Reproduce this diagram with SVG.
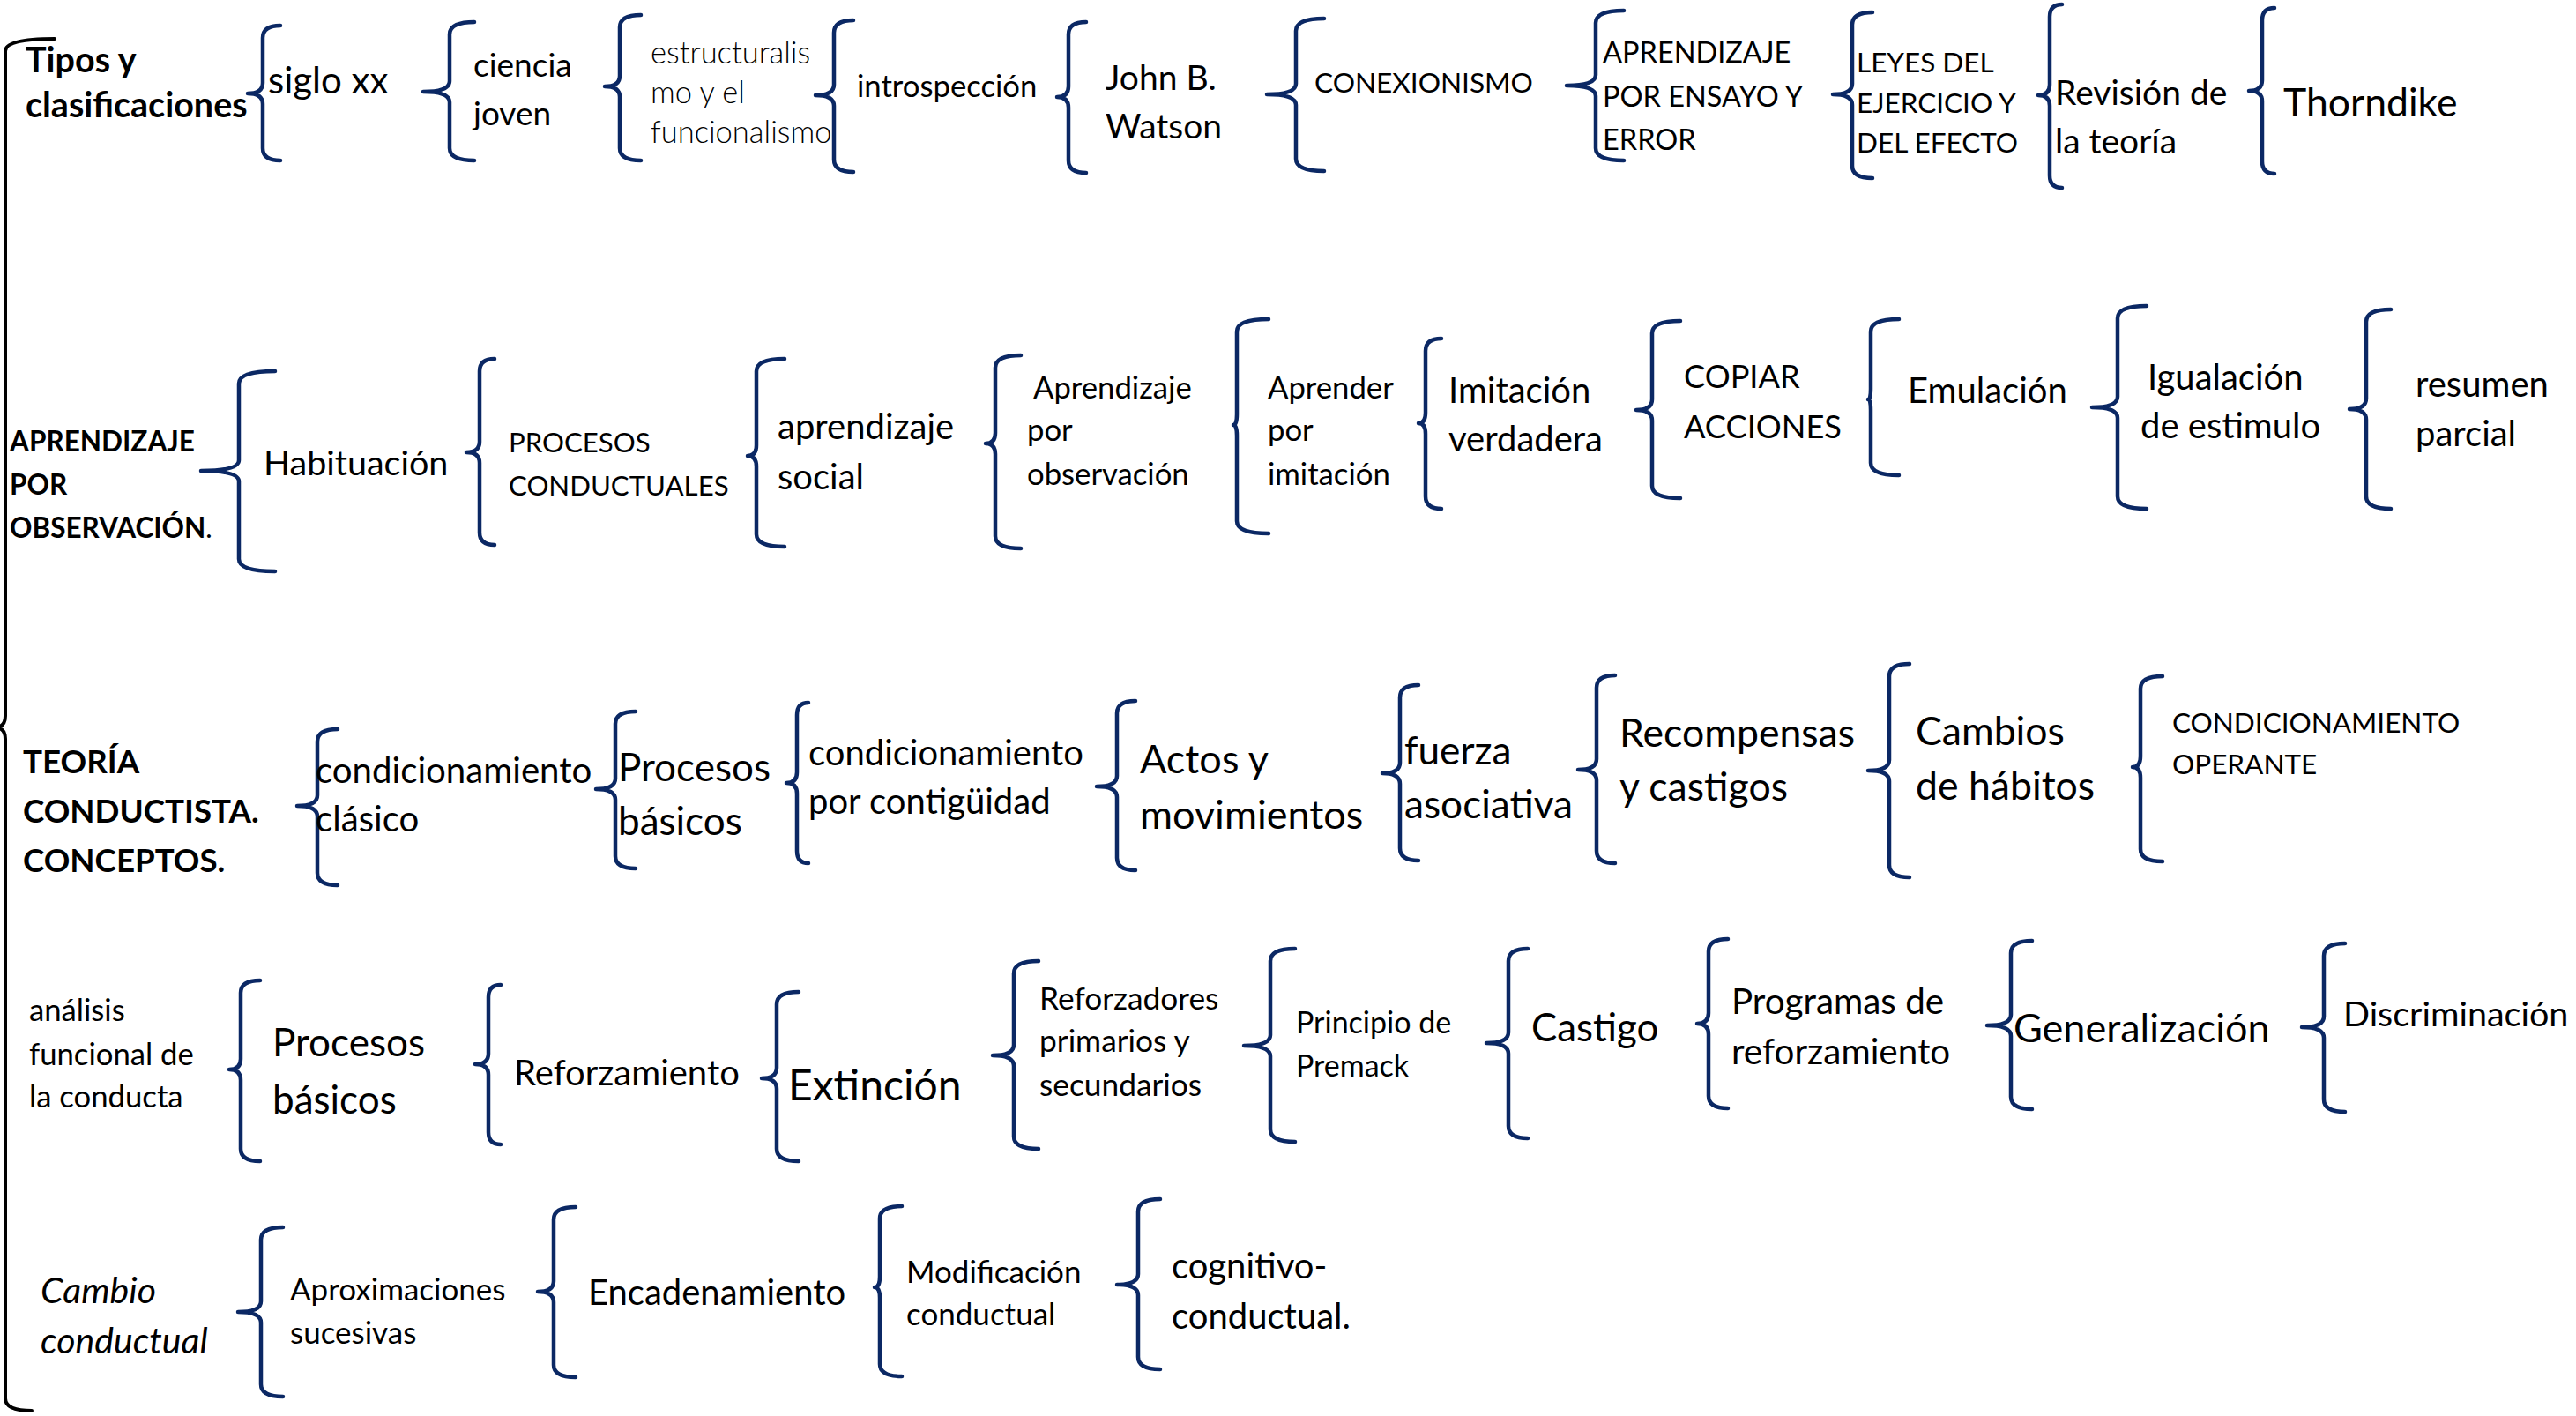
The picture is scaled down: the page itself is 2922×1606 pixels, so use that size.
<svg xmlns="http://www.w3.org/2000/svg" width="2922" height="1606" viewBox="0 0 2922 1606">
<style>
.t{font-family:Lato,"Liberation Sans",sans-serif;fill:#000}
.bd{font-weight:bold}
.it{font-style:italic}
.lt{font-weight:300}
.br{fill:none;stroke:#0b2864;stroke-width:4.5;stroke-linecap:round;stroke-linejoin:round}
.bk{fill:none;stroke:#000;stroke-width:4;stroke-linecap:round;stroke-linejoin:round}
</style>
<rect width="2922" height="1606" fill="#fff"/>
<g id="connectors">
<path class="bk" d="M62,44 Q6,44 6,58 L6,812 Q6,825 -6,825 Q6,825 6,838 L6,1586 Q6,1600 36,1600"/>
<path class="br" d="M318,29 Q298,29 298,43 L298,94 Q298,106 281,106 Q298,106 298,118 L298,168 Q298,182 318,182"/>
<path class="br" d="M538,25 Q510,25 510,39 L510,92 Q510,104 480,104 Q510,104 510,116 L510,168 Q510,182 538,182"/>
<path class="br" d="M727,17 Q703,17 703,31 L703,86 Q703,98 686,98 Q703,98 703,110 L703,168 Q703,182 727,182"/>
<path class="br" d="M968,23 Q946,23 946,37 L946,96 Q946,108 925,108 Q946,108 946,120 L946,181 Q946,195 968,195"/>
<path class="br" d="M1232,25 Q1212,25 1212,39 L1212,98 Q1212,110 1199,110 Q1212,110 1212,122 L1212,182 Q1212,196 1232,196"/>
<path class="br" d="M1502,21 Q1470,21 1470,35 L1470,95 Q1470,107 1437,107 Q1470,107 1470,119 L1470,180 Q1470,194 1502,194"/>
<path class="br" d="M1842,12 Q1810,12 1810,26 L1810,85 Q1810,97 1777,97 Q1810,97 1810,109 L1810,168 Q1810,182 1842,182"/>
<path class="br" d="M2124,14 Q2101,14 2101,28 L2101,95 Q2101,107 2079,107 Q2101,107 2101,119 L2101,188 Q2101,202 2124,202"/>
<path class="br" d="M2339,5 Q2325,5 2325,19 L2325,96 Q2325,108 2312,108 Q2325,108 2325,120 L2325,199 Q2325,213 2339,213"/>
<path class="br" d="M2580,9 Q2566,9 2566,23 L2566,91 Q2566,103 2551,103 Q2566,103 2566,115 L2566,183 Q2566,197 2580,197"/>
<path class="br" d="M312,421 Q271,421 271,435 L271,522 Q271,534 228,534 Q271,534 271,546 L271,634 Q271,648 312,648"/>
<path class="br" d="M561,407 Q544,407 544,421 L544,501 Q544,513 529,513 Q544,513 544,525 L544,604 Q544,618 561,618"/>
<path class="br" d="M890,407 Q858,407 858,421 L858,505 Q858,517 848,517 Q858,517 858,529 L858,606 Q858,620 890,620"/>
<path class="br" d="M1158,403 Q1129,403 1129,417 L1129,491 Q1129,503 1118,503 Q1129,503 1129,515 L1129,608 Q1129,622 1158,622"/>
<path class="br" d="M1439,362 Q1403,362 1403,376 L1403,470 Q1403,482 1399,482 Q1403,482 1403,494 L1403,591 Q1403,605 1439,605"/>
<path class="br" d="M1635,384 Q1617,384 1617,398 L1617,468 Q1617,480 1609,480 Q1617,480 1617,492 L1617,563 Q1617,577 1635,577"/>
<path class="br" d="M1906,364 Q1874,364 1874,378 L1874,453 Q1874,465 1856,465 Q1874,465 1874,477 L1874,551 Q1874,565 1906,565"/>
<path class="br" d="M2154,362 Q2122,362 2122,376 L2122,441 Q2122,453 2119,453 Q2122,453 2122,465 L2122,525 Q2122,539 2154,539"/>
<path class="br" d="M2435,347 Q2402,347 2402,361 L2402,450 Q2402,462 2373,462 Q2402,462 2402,474 L2402,563 Q2402,577 2435,577"/>
<path class="br" d="M2712,351 Q2684,351 2684,365 L2684,452 Q2684,464 2665,464 Q2684,464 2684,476 L2684,563 Q2684,577 2712,577"/>
<path class="br" d="M383,827 Q360,827 360,841 L360,902 Q360,914 337,914 Q360,914 360,926 L360,990 Q360,1004 383,1004"/>
<path class="br" d="M721,807 Q698,807 698,821 L698,883 Q698,895 676,895 Q698,895 698,907 L698,971 Q698,985 721,985"/>
<path class="br" d="M917,797 Q904,797 904,811 L904,876 Q904,888 892,888 Q904,888 904,900 L904,965 Q904,979 917,979"/>
<path class="br" d="M1288,795 Q1267,795 1267,809 L1267,880 Q1267,892 1244,892 Q1267,892 1267,904 L1267,973 Q1267,987 1288,987"/>
<path class="br" d="M1609,777 Q1588,777 1588,791 L1588,865 Q1588,877 1568,877 Q1588,877 1588,889 L1588,962 Q1588,976 1609,976"/>
<path class="br" d="M1832,766 Q1811,766 1811,780 L1811,861 Q1811,873 1790,873 Q1811,873 1811,885 L1811,965 Q1811,979 1832,979"/>
<path class="br" d="M2166,753 Q2143,753 2143,767 L2143,862 Q2143,874 2119,874 Q2143,874 2143,886 L2143,981 Q2143,995 2166,995"/>
<path class="br" d="M2453,767 Q2428,767 2428,781 L2428,858 Q2428,870 2419,870 Q2428,870 2428,882 L2428,963 Q2428,977 2453,977"/>
<path class="br" d="M295,1112 Q273,1112 273,1126 L273,1201 Q273,1213 260,1213 Q273,1213 273,1225 L273,1303 Q273,1317 295,1317"/>
<path class="br" d="M568,1117 Q554,1117 554,1131 L554,1195 Q554,1207 539,1207 Q554,1207 554,1219 L554,1284 Q554,1298 568,1298"/>
<path class="br" d="M906,1125 Q881,1125 881,1139 L881,1211 Q881,1223 864,1223 Q881,1223 881,1235 L881,1303 Q881,1317 906,1317"/>
<path class="br" d="M1178,1090 Q1150,1090 1150,1104 L1150,1185 Q1150,1197 1126,1197 Q1150,1197 1150,1209 L1150,1289 Q1150,1303 1178,1303"/>
<path class="br" d="M1469,1076 Q1441,1076 1441,1090 L1441,1174 Q1441,1186 1411,1186 Q1441,1186 1441,1198 L1441,1281 Q1441,1295 1469,1295"/>
<path class="br" d="M1733,1076 Q1711,1076 1711,1090 L1711,1171 Q1711,1183 1686,1183 Q1711,1183 1711,1195 L1711,1277 Q1711,1291 1733,1291"/>
<path class="br" d="M1960,1065 Q1938,1065 1938,1079 L1938,1149 Q1938,1161 1925,1161 Q1938,1161 1938,1173 L1938,1243 Q1938,1257 1960,1257"/>
<path class="br" d="M2305,1067 Q2281,1067 2281,1081 L2281,1151 Q2281,1163 2254,1163 Q2281,1163 2281,1175 L2281,1244 Q2281,1258 2305,1258"/>
<path class="br" d="M2660,1070 Q2636,1070 2636,1084 L2636,1153 Q2636,1165 2611,1165 Q2636,1165 2636,1177 L2636,1247 Q2636,1261 2660,1261"/>
<path class="br" d="M321,1392 Q296,1392 296,1406 L296,1476 Q296,1488 270,1488 Q296,1488 296,1500 L296,1570 Q296,1584 321,1584"/>
<path class="br" d="M653,1369 Q628,1369 628,1383 L628,1453 Q628,1465 610,1465 Q628,1465 628,1477 L628,1548 Q628,1562 653,1562"/>
<path class="br" d="M1023,1368 Q998,1368 998,1382 L998,1448 Q998,1460 992,1460 Q998,1460 998,1472 L998,1547 Q998,1561 1023,1561"/>
<path class="br" d="M1316,1360 Q1291,1360 1291,1374 L1291,1445 Q1291,1457 1267,1457 Q1291,1457 1291,1469 L1291,1539 Q1291,1553 1316,1553"/>
</g>
<g id="n-tipos" class="t bd" font-size="39.5"><text x="29" y="82">Tipos y</text><text x="29" y="133">clasificaciones</text></g>
<g id="n-siglo" class="t" font-size="42"><text x="304" y="106">siglo xx</text></g>
<g id="n-ciencia" class="t" font-size="37"><text x="537" y="87">ciencia</text><text x="537" y="142">joven</text></g>
<g id="n-estruct" class="t lt" font-size="34.5"><text x="738" y="72">estructuralis</text><text x="738" y="117">mo y el</text><text x="738" y="162">funcionalismo</text></g>
<g id="n-intro" class="t" font-size="34.7"><text x="972" y="110">introspección</text></g>
<g id="n-watson" class="t" font-size="39"><text x="1254" y="102">John B.</text><text x="1254" y="157">Watson</text></g>
<g id="n-conex" class="t" font-size="31.6"><text x="1491" y="105">CONEXIONISMO</text></g>
<g id="n-ensayo" class="t" font-size="32.5"><text x="1818" y="71">APRENDIZAJE</text><text x="1818" y="121">POR ENSAYO Y</text><text x="1818" y="170">ERROR</text></g>
<g id="n-leyes" class="t" font-size="31.5"><text x="2106" y="82">LEYES DEL</text><text x="2106" y="128">EJERCICIO Y</text><text x="2106" y="173">DEL EFECTO</text></g>
<g id="n-revision" class="t" font-size="39"><text x="2331" y="119">Revisión de</text><text x="2331" y="174">la teoría</text></g>
<g id="n-thorndike" class="t" font-size="44.5"><text x="2590" y="132">Thorndike</text></g>
<g id="n-apobs" class="t bd" font-size="31.5"><text x="11" y="512">APRENDIZAJE</text><text x="11" y="561">POR</text><text x="11" y="610">OBSERVACIÓN<tspan font-weight="normal">.</tspan></text></g>
<g id="n-habit" class="t" font-size="39.5"><text x="299" y="539">Habituación</text></g>
<g id="n-procond" class="t" font-size="31.2"><text x="577" y="513">PROCESOS</text><text x="577" y="562">CONDUCTUALES</text></g>
<g id="n-apsocial" class="t" font-size="40"><text x="882" y="498">aprendizaje</text><text x="882" y="555">social</text></g>
<g id="n-apobserv" class="t" font-size="34.7"><text x="1172" y="452">Aprendizaje</text><text x="1165" y="500">por</text><text x="1165" y="550">observación</text></g>
<g id="n-apimit" class="t" font-size="34.7"><text x="1438" y="452">Aprender</text><text x="1438" y="500">por</text><text x="1438" y="550">imitación</text></g>
<g id="n-imitver" class="t" font-size="40"><text x="1643" y="457">Imitación</text><text x="1643" y="512">verdadera</text></g>
<g id="n-copiar" class="t" font-size="36.2"><text x="1910" y="440">COPIAR</text><text x="1910" y="497">ACCIONES</text></g>
<g id="n-emul" class="t" font-size="40"><text x="2164" y="457">Emulación</text></g>
<g id="n-igual" class="t" font-size="40"><text x="2436" y="442">Igualación</text><text x="2428" y="497">de estimulo</text></g>
<g id="n-resumen" class="t" font-size="40"><text x="2740" y="450">resumen</text><text x="2740" y="506">parcial</text></g>
<g id="n-teoria" class="t bd" font-size="36.7"><text x="26" y="877">TEORÍA</text><text x="26" y="933">CONDUCTISTA.</text><text x="26" y="989">CONCEPTOS.</text></g>
<g id="n-condclas" class="t" font-size="40.2"><text x="358" y="888">condicionamiento</text><text x="358" y="943">clásico</text></g>
<g id="n-procbas1" class="t" font-size="44"><text x="701" y="886">Procesos</text><text x="701" y="947">básicos</text></g>
<g id="n-condcont" class="t" font-size="40"><text x="917" y="868">condicionamiento</text><text x="917" y="923">por contigüidad</text></g>
<g id="n-actos" class="t" font-size="45"><text x="1293" y="877">Actos y</text><text x="1293" y="940">movimientos</text></g>
<g id="n-fuerza" class="t" font-size="44.2"><text x="1593" y="867">fuerza</text><text x="1593" y="928">asociativa</text></g>
<g id="n-recomp" class="t" font-size="44.6"><text x="1837" y="847">Recompensas</text><text x="1837" y="908">y castigos</text></g>
<g id="n-cambios" class="t" font-size="44.6"><text x="2173" y="845">Cambios</text><text x="2173" y="907">de hábitos</text></g>
<g id="n-condop" class="t" font-size="31.5"><text x="2464" y="831">CONDICIONAMIENTO</text><text x="2464" y="878">OPERANTE</text></g>
<g id="n-analisis" class="t" font-size="34.7"><text x="33" y="1158">análisis</text><text x="33" y="1208">funcional de</text><text x="33" y="1256">la conducta</text></g>
<g id="n-procbas2" class="t" font-size="44"><text x="309" y="1198">Procesos</text><text x="309" y="1263">básicos</text></g>
<g id="n-reforz" class="t" font-size="40"><text x="583" y="1231">Reforzamiento</text></g>
<g id="n-extin" class="t" font-size="48"><text x="894" y="1248">Extinción</text></g>
<g id="n-reforzadores" class="t" font-size="35.3"><text x="1179" y="1145">Reforzadores</text><text x="1179" y="1193">primarios y</text><text x="1179" y="1243">secundarios</text></g>
<g id="n-premack" class="t" font-size="34"><text x="1470" y="1172">Principio de</text><text x="1470" y="1221">Premack</text></g>
<g id="n-castigo" class="t" font-size="43.8"><text x="1737" y="1181">Castigo</text></g>
<g id="n-programas" class="t" font-size="40.4"><text x="1964" y="1150">Programas de</text><text x="1964" y="1207">reforzamiento</text></g>
<g id="n-general" class="t" font-size="45"><text x="2284" y="1182">Generalización</text></g>
<g id="n-discrim" class="t" font-size="39.5"><text x="2658" y="1164">Discriminación</text></g>
<g id="n-cambio" class="t it" font-size="41"><text x="46" y="1478">Cambio</text><text x="46" y="1535">conductual</text></g>
<g id="n-aprox" class="t" font-size="35"><text x="329" y="1475">Aproximaciones</text><text x="329" y="1524">sucesivas</text></g>
<g id="n-encad" class="t" font-size="40"><text x="667" y="1480">Encadenamiento</text></g>
<g id="n-modif" class="t" font-size="35"><text x="1028" y="1455">Modificación</text><text x="1028" y="1503">conductual</text></g>
<g id="n-cognit" class="t" font-size="40"><text x="1329" y="1450">cognitivo-</text><text x="1329" y="1507">conductual.</text></g>
</svg>
